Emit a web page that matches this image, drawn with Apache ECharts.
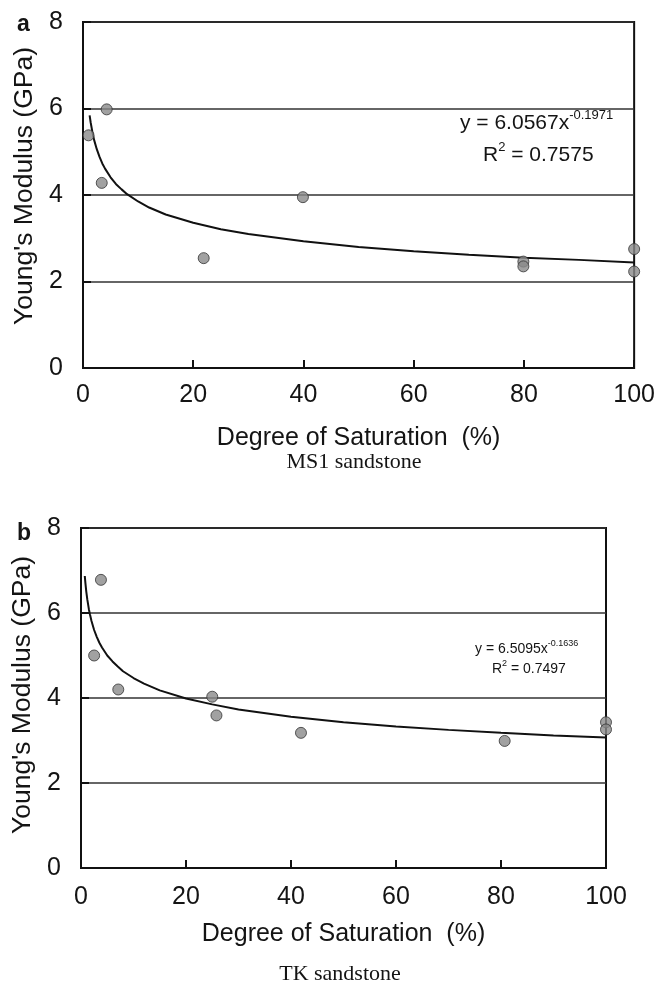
<!DOCTYPE html>
<html>
<head>
<meta charset="utf-8">
<script src="https://cdn.jsdelivr.net/npm/echarts@6/dist/echarts.min.js"></script>
<style>
html,body{margin:0;padding:0;background:#fff;}
#chart{width:658px;height:983px;}
</style>
</head>
<body>
<div id="chart"></div>
<script>
// ---- data ----
var xTicks = [0, 20, 40, 60, 80, 100];
var yTicks = [0, 2, 4, 6, 8];

// Panel a: MS1 sandstone
var satA = [1.0, 4.3, 3.4, 21.9, 39.9, 79.9, 79.9, 100, 100];
var modA = [5.38, 5.98, 4.28, 2.54, 3.95, 2.46, 2.35, 2.75, 2.23];
// trend line a
var fitAx = [1.2, 1.4, 1.7, 2, 2.5, 3, 3.5, 4, 5, 6, 7, 8, 10, 12, 15, 20, 25, 30, 40, 50, 60, 70, 80, 90, 100];
var fitAy = [5.84, 5.67, 5.46, 5.28, 5.06, 4.88, 4.73, 4.61, 4.41, 4.25, 4.13, 4.02, 3.85, 3.71, 3.55, 3.36, 3.21, 3.10, 2.93, 2.80, 2.70, 2.62, 2.55, 2.50, 2.44];

// Panel b: TK sandstone
var satB = [3.8, 2.5, 7.1, 25.0, 25.8, 41.9, 80.7, 100, 100];
var modB = [6.78, 5.00, 4.20, 4.03, 3.59, 3.18, 2.99, 3.43, 3.26];
var fitBx = [0.72, 0.85, 1, 1.2, 1.5, 1.7, 2, 2.5, 3, 3.5, 4, 5, 6, 7, 8, 10, 12, 15, 20, 25, 30, 40, 50, 60, 70, 80, 90, 100];
var fitBy = [6.87, 6.69, 6.51, 6.32, 6.09, 5.97, 5.81, 5.60, 5.44, 5.30, 5.19, 5.00, 4.86, 4.74, 4.63, 4.47, 4.34, 4.18, 3.99, 3.85, 3.73, 3.56, 3.43, 3.33, 3.25, 3.18, 3.12, 3.07];

var xTitle = 'Degree of Saturation  (%)';
var yTitle = "Young's Modulus (GPa)";
var captions = ['MS1 sandstone', 'TK sandstone'];
var panelLetters = ['a', 'b'];
var eqA = ['y = 6.0567x', '-0.1971', '0.7575'];
var eqB = ['y = 6.5095x', '-0.1636', '0.7497'];

function zip(xs, ys) { return xs.map(function (x, i) { return [x, ys[i]]; }); }

var SANS = 'Liberation Sans, Arial, sans-serif';
var SERIF = 'Liberation Serif, Times New Roman, serif';
var TXT = '#141414';

function xAxisCfg(gridIndex, labelMargin, nameGap) {
  return {
    gridIndex: gridIndex, type: 'value', min: 0, max: 100, interval: 20,
    axisLine: { show: true, onZero: false, lineStyle: { color: '#111', width: 2 } },
    axisTick: { show: true, inside: true, length: 8, lineStyle: { color: '#111', width: 2 } },
    axisLabel: { fontFamily: SANS, fontSize: 25, color: TXT, margin: labelMargin },
    splitLine: { show: false },
    name: xTitle, nameLocation: 'middle', nameGap: nameGap,
    nameTextStyle: { fontFamily: SANS, fontSize: 25, color: TXT }
  };
}
function yAxisCfg(gridIndex, nameGap, shift) {
  return {
    gridIndex: gridIndex, type: 'value', min: 0, max: 8, interval: 2,
    axisLine: { show: true, onZero: false, lineStyle: { color: '#111', width: 2 } },
    axisTick: { show: true, inside: true, length: 8, lineStyle: { color: '#111', width: 2 } },
    axisLabel: { fontFamily: SANS, fontSize: 25, color: TXT, margin: 20 },
    splitLine: { show: true, lineStyle: { color: '#333', width: 1.5 } },
    name: yTitle, nameLocation: 'middle', nameGap: nameGap,
    nameTextStyle: { fontFamily: SANS, fontSize: 26.5, color: TXT, padding: [0, 0, 0, shift] }
  };
}

var scatterStyle = { color: '#8a8a8a', borderColor: '#333', borderWidth: 1 };

function richEq(big, small, lh, supPad) {
  return {
    m: { fontFamily: SANS, fontSize: big, fontWeight: 'normal', color: TXT, lineHeight: lh, verticalAlign: 'bottom' },
    s: { fontFamily: SANS, fontSize: small, fontWeight: 'normal', color: TXT, lineHeight: lh, verticalAlign: 'top', padding: [supPad, 0, 0, 0] }
  };
}

var chart = echarts.init(document.getElementById('chart'), null, { renderer: 'canvas' });
var option = {
  backgroundColor: '#fff',
  animation: false,
  title: [
    { text: panelLetters[0], left: 17, top: 13, padding: 0, textStyle: { fontFamily: SANS, fontSize: 23, fontWeight: 'bold', color: TXT } },
    { text: panelLetters[1], left: 17, top: 522, padding: 0, textStyle: { fontFamily: SANS, fontSize: 23, fontWeight: 'bold', color: TXT } },
    { text: captions[0], left: 354, top: 451, padding: 0, textAlign: 'center', textStyle: { fontFamily: SERIF, fontSize: 22, fontWeight: 'normal', color: TXT } },
    { text: captions[1], left: 340, top: 963, padding: 0, textAlign: 'center', textStyle: { fontFamily: SERIF, fontSize: 22, fontWeight: 'normal', color: TXT } },
    { left: 460, top: 106, padding: 0, text: '{m|' + eqA[0] + '}{s|' + eqA[1] + '}', textStyle: { fontWeight: 'normal', rich: richEq(21, 13, 28, 3) } },
    { left: 483, top: 138, padding: 0, text: '{m|R}{s|2}{m| = ' + eqA[2] + '}', textStyle: { fontWeight: 'normal', rich: richEq(21, 13, 28, 3) } },
    { left: 475, top: 637, padding: 0, text: '{m|' + eqB[0] + '}{s|' + eqB[1] + '}', textStyle: { fontWeight: 'normal', rich: richEq(14, 9, 19, 2) } },
    { left: 492, top: 657, padding: 0, text: '{m|R}{s|2}{m| = ' + eqB[2] + '}', textStyle: { fontWeight: 'normal', rich: richEq(14, 9, 19, 2) } }
  ],
  grid: [
    { left: 83, top: 22, width: 556, height: 346, show: true, borderColor: '#111', borderWidth: 2, backgroundColor: 'transparent' },
    { left: 81, top: 528, width: 525, height: 340, show: true, borderColor: '#111', borderWidth: 2, backgroundColor: 'transparent' }
  ],
  xAxis: [xAxisCfg(0, 15, 58), xAxisCfg(1, 17, 54)],
  yAxis: [yAxisCfg(0, 44, 18), yAxisCfg(1, 43, 6)],
  series: [
    { type: 'line', xAxisIndex: 0, yAxisIndex: 0, data: zip(fitAx, fitAy), showSymbol: false, smooth: false,
      lineStyle: { color: '#111', width: 2 }, z: 3 },
    { type: 'scatter', xAxisIndex: 0, yAxisIndex: 0, data: zip(satA, modA), symbol: 'circle', symbolSize: 11, clip: false,
      itemStyle: scatterStyle, z: 4 },
    { type: 'line', xAxisIndex: 1, yAxisIndex: 1, data: zip(fitBx, fitBy), showSymbol: false, smooth: false,
      lineStyle: { color: '#111', width: 2 }, z: 3 },
    { type: 'scatter', xAxisIndex: 1, yAxisIndex: 1, data: zip(satB, modB), symbol: 'circle', symbolSize: 11, clip: false,
      itemStyle: scatterStyle, z: 4 }
  ]
};
chart.setOption(option);
</script>
</body>
</html>
